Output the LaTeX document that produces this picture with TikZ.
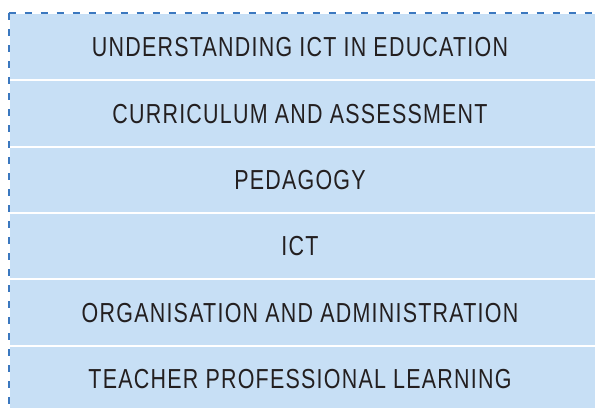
\documentclass[tikz,border=0pt]{standalone}
\usepackage{fontspec}
\setmainfont[FakeStretch=0.78,LetterSpace=4.5]{Liberation Sans}
\definecolor{rowfill}{RGB}{199,223,245}
\definecolor{frameblue}{RGB}{59,120,191}
\definecolor{txt}{RGB}{35,31,32}
\begin{document}
\begin{tikzpicture}[x=1bp,y=-1bp,
  rowbox/.style={rectangle, inner sep=0pt, minimum width=590bp, minimum height=66.4bp,
    text=txt, font=\fontsize{27.6}{30}\selectfont, text height=19.8bp, text depth=0pt},
  sepline/.style={draw=white, line width=2bp},
  frameline/.style={draw=frameblue, line width=2bp, dash pattern=on 7bp off 9bp}]
\useasboundingbox (0,0) rectangle (595,407);
\clip (0,0) rectangle (595,407);
\fill[rowfill] (9.5,14) rectangle (600,412);
\node[rowbox] (r1) at (300,46.7) {UNDERSTANDING ICT IN EDUCATION};
\node[rowbox] (r2) at (300,113.1) {CURRICULUM AND ASSESSMENT};
\node[rowbox] (r3) at (300,179.5) {PEDAGOGY};
\node[rowbox] (r4) at (300,245.9) {ICT};
\node[rowbox] (r5) at (300,312.3) {ORGANISATION AND ADMINISTRATION};
\node[rowbox] (r6) at (300,378.7) {TEACHER PROFESSIONAL LEARNING};
\foreach \a in {1,...,5}{
  \draw[sepline] (r\a.south west) -- (r\a.south east);
}
\coordinate (corner) at (8.5,13);
\coordinate (frameright) at (600,13);
\coordinate (framebottom) at (8.5,412);
\draw[frameline] (corner) -- (frameright);
\draw[frameline] (corner) -- (framebottom);
\end{tikzpicture}
\end{document}
